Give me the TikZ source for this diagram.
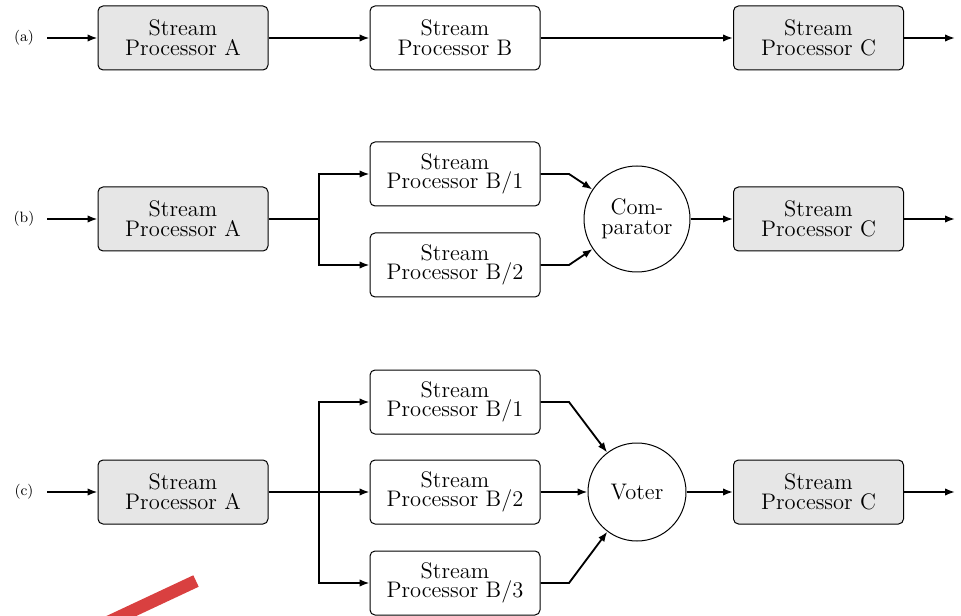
\documentclass[tikz,border=0pt]{standalone}
\usetikzlibrary{arrows.meta}
\definecolor{boxgray}{RGB}{230,230,230}
\definecolor{markred}{RGB}{217,64,64}
\begin{document}
\begin{tikzpicture}[x=0.6pt,y=-0.6pt,
  proc/.style={draw,line width=0.6pt,rounded corners=3pt,minimum width=102pt,minimum height=38.4pt,
    align=center,inner sep=0pt,font=\fontsize{13.5}{11.8}\selectfont},
  procg/.style={proc,fill=boxgray},
  junc/.style={draw,line width=0.6pt,circle,inner sep=0pt,align=center,font=\fontsize{13.5}{11.8}\selectfont},
  arr/.style={line width=1.1pt,-{Latex[length=6pt,width=4.5pt]}},
  ln/.style={line width=1.1pt},
  tag/.style={font=\fontsize{9}{10}\selectfont}]
\useasboundingbox (0,0) rectangle (961,616);

% (a) serial chain
\node[tag] (ta) at (24,38) {(a)};
\coordinate (ain) at (47,38);
\node[procg] (aA) at (183,38) {Stream\\Processor A};
\node[proc]  (aB) at (455,38) {Stream\\Processor B};
\node[procg] (aC) at (818.5,38) {Stream\\Processor C};
\coordinate (aout) at (955,38);
\draw[arr] (ain) -- (aA);
\draw[arr] (aA) -- (aB);
\draw[arr] (aB) -- (aC);
\draw[arr] (aC) -- (aout);

% (b) duplicated processor with comparator
\node[tag] (tb) at (24,219) {(b)};
\coordinate (bin) at (47,219);
\node[procg] (bA) at (183,219) {Stream\\Processor A};
\coordinate (bfork) at (319,219);
\node[proc] (bB1) at (455,174) {Stream\\Processor B/1};
\node[proc] (bB2) at (455,265) {Stream\\Processor B/2};
\node[junc,minimum size=63.6pt] (cmp) at (637,219) {Com-\\parator};
\node[procg] (bC) at (818.5,219) {Stream\\Processor C};
\coordinate (bout) at (955,219);
\coordinate (bk1) at (569,174);
\coordinate (bk2) at (569,265);
\draw[arr] (bin) -- (bA);
\draw[ln] (bA) -- (bfork);
\draw[arr] (bfork) |- (bB1);
\draw[arr] (bfork) |- (bB2);
\draw[arr] (bB1.east) -- (bk1) -- (cmp);
\draw[arr] (bB2.east) -- (bk2) -- (cmp);
\draw[arr] (cmp) -- (bC);
\draw[arr] (bC) -- (bout);

% (c) triplicated processor with voter
\node[tag] (tc) at (24,492) {(c)};
\coordinate (cin) at (47,492);
\node[procg] (cA) at (183,492) {Stream\\Processor A};
\coordinate (cfork) at (319,492);
\node[proc] (cB1) at (455,402) {Stream\\Processor B/1};
\node[proc] (cB2) at (455,492) {Stream\\Processor B/2};
\node[proc] (cB3) at (455,583) {Stream\\Processor B/3};
\node[junc,minimum size=58.8pt] (vot) at (637,492) {Voter};
\node[procg] (cC) at (818.5,492) {Stream\\Processor C};
\coordinate (cout) at (955,492);
\coordinate (ck1) at (569,402);
\coordinate (ck3) at (569,583);
\draw[arr] (cin) -- (cA);
\draw[ln] (cA) -- (cfork);
\draw[arr] (cfork) |- (cB1);
\draw[arr] (cfork) -- (cB2);
\draw[arr] (cfork) |- (cB3);
\draw[arr] (cB1.east) -- (ck1) -- (vot);
\draw[arr] (cB2) -- (vot);
\draw[arr] (cB3.east) -- (ck3) -- (vot);
\draw[arr] (vot) -- (cC);
\draw[arr] (cC) -- (cout);

% red marker stroke
\coordinate (m1) at (196,581);
\coordinate (m2) at (100,626);
\draw[markred,line width=7.6pt] (m1) -- (m2);
\end{tikzpicture}
\end{document}
